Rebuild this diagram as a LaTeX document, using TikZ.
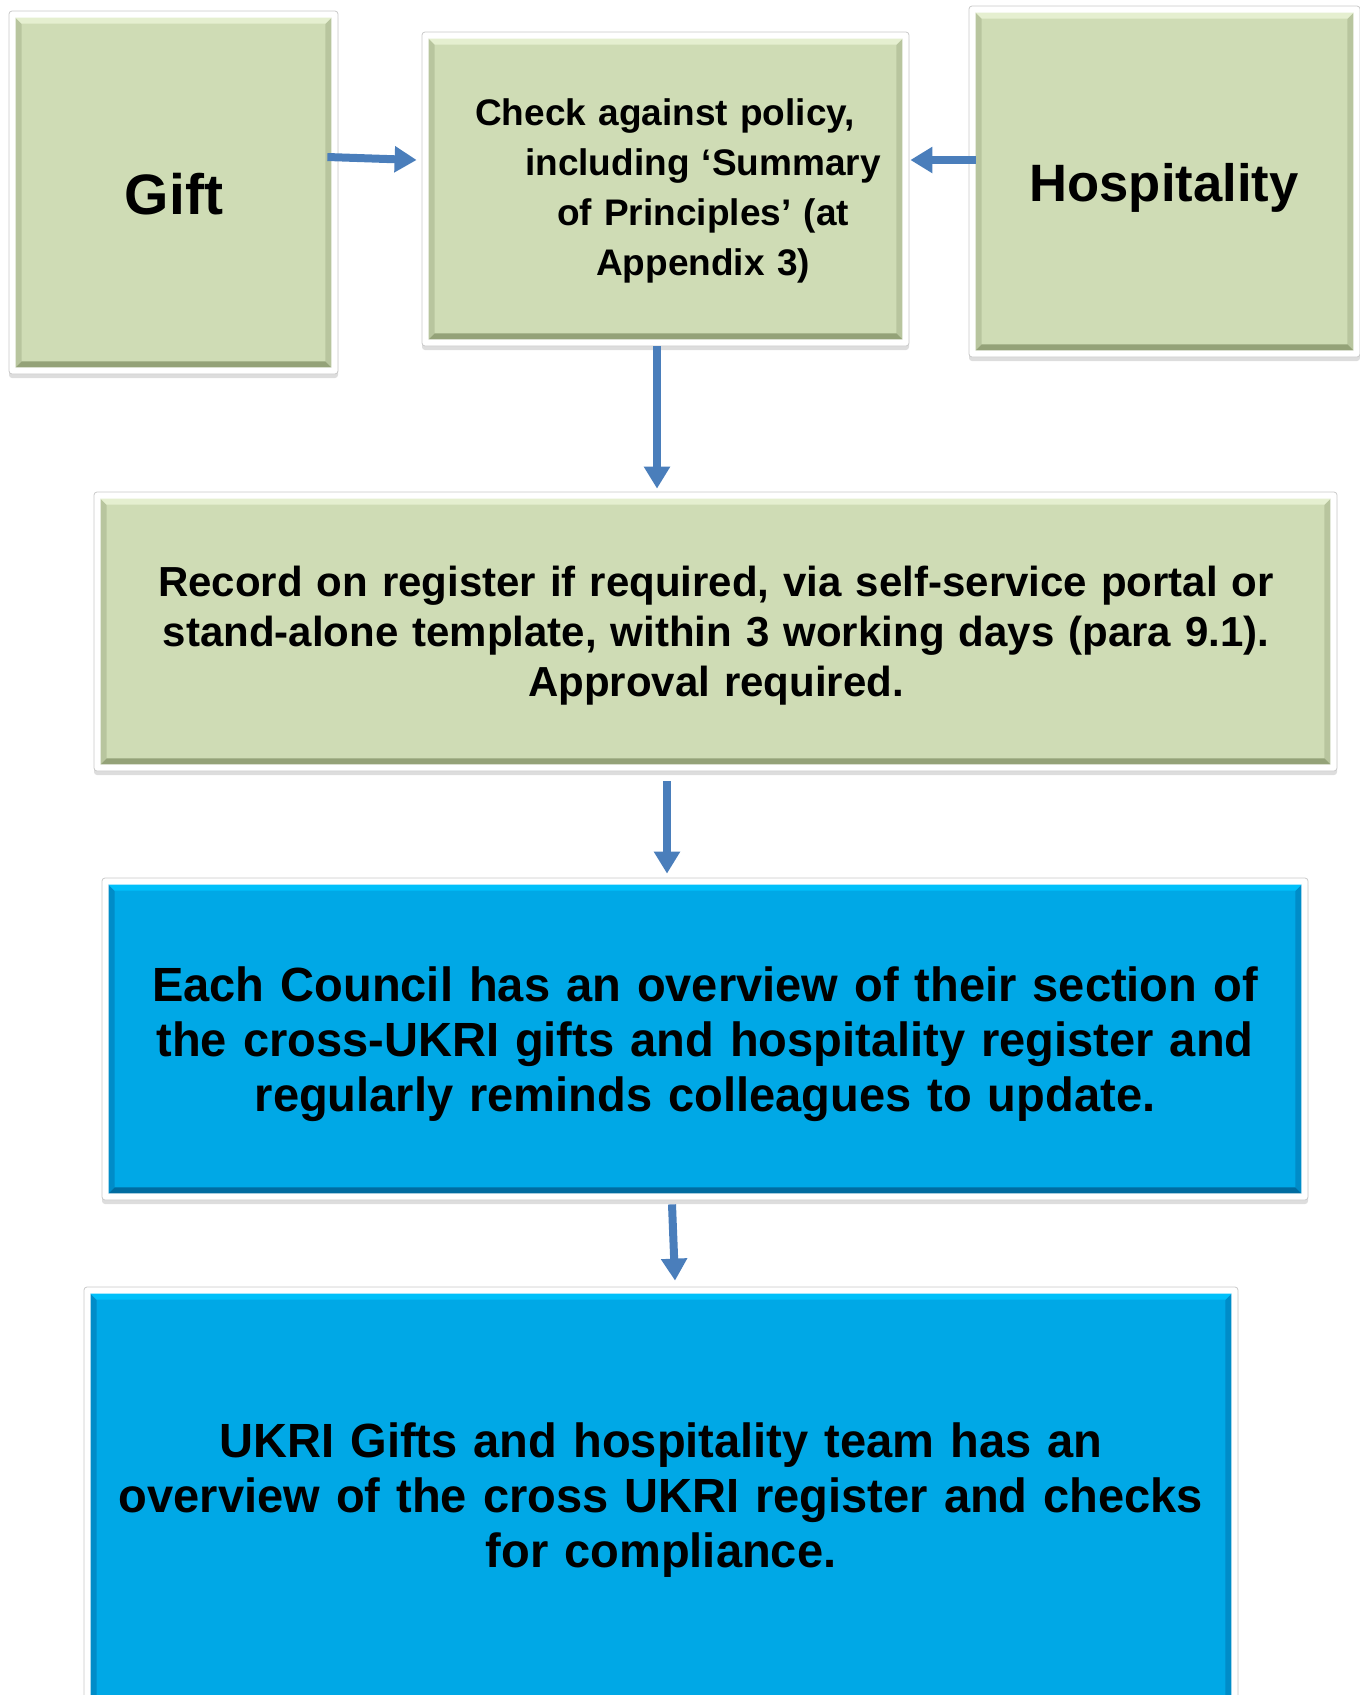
\documentclass[tikz,border=0pt]{standalone}
\usepackage{fontspec}
\setmainfont{Liberation Sans}
\newfontfamily\narrowsans[FakeStretch=0.98]{Liberation Sans}
\usetikzlibrary{arrows.meta,shadows}

\definecolor{greenfill}{RGB}{207,220,181}
\definecolor{greentop}{RGB}{229,239,208}
\definecolor{greenside}{RGB}{184,197,158}
\definecolor{greenbot}{RGB}{148,162,120}
\definecolor{bluefill}{RGB}{0,168,230}
\definecolor{bluetop}{RGB}{0,192,250}
\definecolor{blueside}{RGB}{0,140,200}
\definecolor{bluebot}{RGB}{0,108,160}
\definecolor{flowblue}{RGB}{74,126,187}
\definecolor{panelline}{RGB}{200,200,200}

\tikzset{every picture/.style={line width=0.75pt}}
\tikzset{
  panel/.style={draw=panelline, fill=white, rounded corners=3pt, inner sep=0pt,
    drop shadow={shadow xshift=0pt, shadow yshift=-4pt, opacity=.22, fill=black!60}},
  flow/.style={draw=flowblue, line width=8pt, -{Triangle[length=22pt,width=25pt]}},
  boxtext/.style={inner sep=0pt, align=center}
}

% bevelled face inside a panel: #1 node, #2 face, #3 top, #4 sides, #5 bottom
\newcommand{\bevelbox}[5]{%
  \fill[#2] ([shift={(7,7)}]#1.north west) rectangle ([shift={(-7,-7)}]#1.south east);
  \fill[#4] ([shift={(7,7)}]#1.north west) -- ([shift={(13,13)}]#1.north west) -- ([shift={(13,-13)}]#1.south west) -- ([shift={(7,-7)}]#1.south west) -- cycle;
  \fill[#4] ([shift={(-7,7)}]#1.north east) -- ([shift={(-13,13)}]#1.north east) -- ([shift={(-13,-13)}]#1.south east) -- ([shift={(-7,-7)}]#1.south east) -- cycle;
  \fill[#3] ([shift={(7,7)}]#1.north west) -- ([shift={(-7,7)}]#1.north east) -- ([shift={(-13,13)}]#1.north east) -- ([shift={(13,13)}]#1.north west) -- cycle;
  \fill[#5] ([shift={(7,-7)}]#1.south west) -- ([shift={(-7,-7)}]#1.south east) -- ([shift={(-13,-13)}]#1.south east) -- ([shift={(13,-13)}]#1.south west) -- cycle;
}

\begin{document}
\begin{tikzpicture}[x=1pt,y=1pt,yscale=-1,xscale=1]
\clip (0,0) rectangle (1360,1695);

%Panels
\node[panel, minimum width=329pt, minimum height=363pt] (gift) at (173.5,192.5) {};
\node[panel, minimum width=487pt, minimum height=314pt] (check) at (665.5,189) {};
\node[panel, minimum width=391pt, minimum height=351pt] (hosp) at (1164.5,181.5) {};
\node[panel, minimum width=1243pt, minimum height=279pt] (record) at (715.5,631.5) {};
\node[panel, minimum width=1206pt, minimum height=322pt] (council) at (705,1039) {};
\node[panel, minimum width=1154pt, minimum height=433pt] (ukri) at (661,1503.5) {};

%Faces
\bevelbox{gift}{greenfill}{greentop}{greenside}{greenbot}
\bevelbox{check}{greenfill}{greentop}{greenside}{greenbot}
\bevelbox{hosp}{greenfill}{greentop}{greenside}{greenbot}
\bevelbox{record}{greenfill}{greentop}{greenside}{greenbot}
\bevelbox{council}{bluefill}{bluetop}{blueside}{bluebot}
\bevelbox{ukri}{bluefill}{bluetop}{blueside}{bluebot}

% Text Node
\node[boxtext, font=\bfseries\fontsize{57}{66}\selectfont] (giftlbl) at (174,194) {Gift};
\node[boxtext, font=\bfseries\fontsize{52.6}{60}\selectfont] (hosplbl) at (1164,188) {Hospitality};
\node[boxtext, text width=400pt, font=\bfseries\fontsize{37}{50}\selectfont] (checklbl) at (703,190.5)
  {\hspace*{-76pt}Check against policy,\\ including ‘Summary\\ of Principles’ (at\\ Appendix 3)};
\node[boxtext, text width=1180pt, font=\bfseries\fontsize{42}{50}\selectfont] (recordlbl) at (716,636)
  {Record on register if required, via self-service portal or\\ stand-alone template, within 3 working days (para 9.1).\\ Approval required.};
\node[boxtext, text width=1180pt, font=\narrowsans\bfseries\fontsize{48}{55}\selectfont] (councillbl) at (705,1044)
  {Each Council has an overview of their section of\\ the cross-UKRI gifts and hospitality register and\\ regularly reminds colleagues to update.};
\node[boxtext, text width=1120pt, font=\narrowsans\bfseries\fontsize{48}{55}\selectfont] (ukrilbl) at (661,1500)
  {UKRI Gifts and hospitality team has an\\ overview of the cross UKRI register and checks\\ for compliance.};

%Arrows
\draw[flow] ([shift={(-11,-35.5)}]gift.east) -- ([shift={(-5,-29)}]check.west);
\draw[flow] ([shift={(7,-21.5)}]hosp.west) -- ([shift={(1,-29)}]check.east);
\draw[flow] ([shift={(-8.5,0)}]check.south) -- ([shift={(-58.5,-3)}]record.north);
\draw[flow] ([shift={(-48.5,10)}]record.south) -- ([shift={(-38,-4)}]council.north);
\draw[flow] ([shift={(-33,4)}]council.south) -- ([shift={(14,-6)}]ukri.north);
\end{tikzpicture}
\end{document}
